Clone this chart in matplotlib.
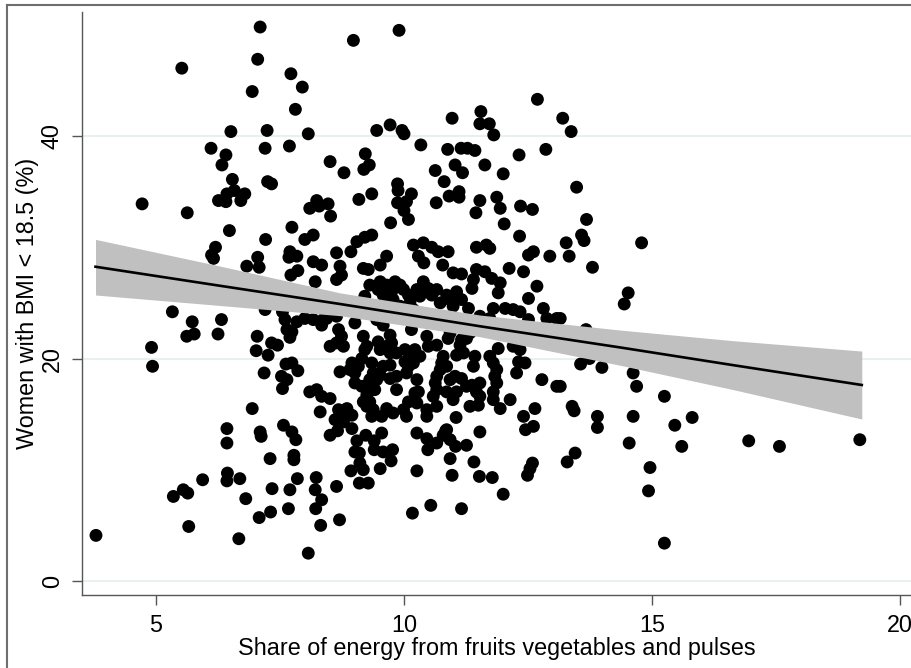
import numpy as np
import matplotlib
matplotlib.use("Agg")
import matplotlib.pyplot as plt
from matplotlib.lines import Line2D

plt.rcParams["font.family"] = ["Liberation Sans", "DejaVu Sans"]

# Share of dietary energy from fruits, vegetables and pulses (%), by survey cluster
share_fvp = np.array([
    7.10, 5.52, 7.05, 7.72, 7.95, 6.94, 7.81, 6.51, 7.24, 6.11, 7.20, 7.69, 6.41, 6.33, 6.54, 7.25,
    7.33, 4.72, 5.63, 6.26, 6.43, 6.41, 6.58, 6.79, 6.71, 7.74, 6.48,
    8.98, 9.90, 8.07, 9.45, 9.72, 9.96, 10.00, 10.97, 11.55, 11.53, 11.72, 11.81, 12.69, 13.20, 13.37,
    13.48, 10.34, 10.88, 11.15, 11.28, 11.43, 12.32, 12.86, 9.22, 8.51, 8.79, 9.19, 9.30, 10.63, 11.03,
    11.18, 11.63, 12.00, 10.81, 9.87, 9.88, 10.15, 9.35, 9.09, 9.87, 10.05, 10.00, 10.09, 9.73, 8.24,
    8.10, 8.29, 8.47, 8.52, 10.65, 10.91, 11.11, 11.11, 11.53, 11.45, 11.87, 11.94, 12.02, 12.35, 12.59,
    13.68,
    7.21, 6.20, 6.12, 6.16, 7.05, 7.08, 6.83, 7.70, 7.68, 7.84, 7.86, 7.72, 5.33, 5.73, 6.32, 5.62,
    5.77, 6.25, 4.91, 4.93, 7.20, 7.55, 7.84, 7.04, 7.02, 7.26, 7.33, 7.45, 7.64, 7.70, 7.62, 7.74,
    7.86, 7.18, 7.53, 7.64, 7.55, 6.94, 6.43, 7.10, 7.57, 7.74,
    6.43, 7.12, 7.82, 7.30, 7.78, 7.78, 6.44, 6.43, 6.69, 5.94, 5.55, 5.35, 5.64, 6.81, 7.34, 7.70,
    7.85, 7.31, 7.08, 7.67, 5.66, 6.67, 3.79,
    8.07, 8.32, 8.70, 8.22, 8.34, 8.21, 8.64, 8.23, 8.51, 8.66, 8.78, 9.05, 9.23, 9.40, 9.40, 9.55,
    9.58, 9.77, 9.74, 9.01, 9.10, 9.11, 9.18, 8.93, 9.10, 9.28, 9.52, 10.26, 10.46, 10.48, 10.66,
    10.26, 10.17, 10.54, 10.84, 10.93, 11.04, 10.93, 10.97, 11.26, 11.16, 11.41, 11.53, 11.52, 11.78,
    12.00, 12.45, 12.61, 12.59, 12.54, 12.49, 13.29, 13.45,
    13.90, 14.54, 15.46, 15.60, 14.96, 14.93, 15.25, 16.95, 17.57, 19.19,
    13.58, 13.63, 13.27, 13.33, 13.80, 14.79, 14.52, 14.44, 13.15, 13.67, 13.56, 13.74, 13.99, 14.62,
    14.69, 13.15, 15.25, 13.39, 13.43, 13.90, 14.62, 15.81,
    12.33, 8.00, 8.17, 9.05, 9.21, 9.35, 8.93, 8.64, 8.17, 8.34, 8.71, 8.74, 8.64, 8.21, 9.18, 9.28,
    9.52, 9.65, 10.19, 10.39, 10.56, 10.69, 10.89, 10.29, 10.40, 10.78, 11.46, 11.66, 11.73, 12.51,
    12.61, 12.94, 12.12, 12.41, 11.46, 11.63, 11.77, 10.99, 11.16, 11.40, 11.37, 11.94, 11.90, 12.68,
    12.51, 12.81, 12.88, 13.08, 12.51, 11.80, 12.04, 12.20, 12.34, 11.53, 11.73, 11.30, 11.16, 11.06,
    10.86, 10.93, 10.99, 10.66, 10.73, 10.39, 10.49, 10.56, 10.26, 10.32, 10.12, 10.19, 9.82, 9.92,
    9.99, 10.09, 9.52, 9.65, 9.75, 9.31, 9.48, 9.58, 9.68, 9.78, 9.92, 9.21, 9.45, 9.58, 9.01, 9.11,
    8.64, 8.44, 8.17, 8.34, 8.37, 8.00, 7.60, 7.53, 7.74, 8.68, 8.74, 8.51, 8.64, 8.78, 9.18, 9.25,
    9.21, 9.48, 9.52, 9.65, 9.72, 9.75, 9.72, 9.85, 10.02, 10.15, 10.22, 10.32, 10.09, 10.46, 10.49,
    10.66, 10.89, 11.16, 11.26, 11.33, 11.13, 11.20, 11.06, 10.79, 10.76, 10.86, 10.73, 10.66, 10.63,
    10.66, 10.59, 10.26, 10.29, 10.22, 10.05, 10.09, 10.19, 10.02, 9.85, 9.72, 9.85, 9.58, 9.72, 9.52,
    9.35, 9.38, 9.31, 9.25, 9.45, 9.41, 9.15, 9.08, 9.01, 8.95, 8.91, 8.71, 9.01, 9.15, 9.25, 9.18,
    9.25, 9.31, 9.38, 9.35, 9.65, 9.55, 9.78, 9.99, 10.05, 10.09, 10.26, 10.46, 10.66, 10.46, 10.86,
    10.93, 11.03, 11.16, 11.26, 11.37, 11.46, 11.53, 11.06, 10.99, 11.40, 11.43, 11.73, 11.80, 11.87,
    11.83, 11.87, 11.80, 11.80, 11.90, 12.20, 12.34, 12.31, 12.44, 12.27, 11.53, 11.50, 11.33, 11.94,
    12.14, 11.05, 12.64, 12.41, 12.78, 13.08, 10.86, 10.79, 8.95, 8.31, 8.68, 8.85, 8.95, 8.61, 8.74,
    8.10, 8.24, 8.34, 8.51, 10.15, 10.93,
])

# Share of women with BMI below 18.5 (%), same clusters
women_bmi = np.array([
    49.8, 46.1, 46.9, 45.6, 44.4, 44.0, 42.4, 40.4, 40.5, 38.9, 38.9, 39.1, 38.3, 37.4, 36.1, 35.9,
    35.7, 33.9, 33.1, 34.2, 34.8, 34.1, 35.1, 34.8, 34.2, 31.8, 31.5,
    48.6, 49.5, 40.2, 40.5, 41.0, 40.5, 40.2, 41.6, 42.2, 41.1, 41.1, 40.1, 43.3, 41.6, 40.4,
    35.4, 39.2, 38.8, 38.9, 38.9, 38.7, 38.3, 38.8, 38.4, 37.7, 36.7, 37.0, 37.4, 36.9, 37.4,
    36.7, 37.4, 36.6, 35.9, 35.7, 35.1, 34.8, 34.8, 34.3, 34.0, 34.1, 33.3, 32.5, 32.2, 34.2,
    33.5, 33.7, 33.9, 32.8, 34.0, 34.6, 35.0, 34.5, 34.2, 33.1, 34.5, 33.5, 32.1, 33.7, 33.4,
    32.5,
    30.7, 30.0, 29.3, 29.0, 29.1, 28.2, 28.3, 29.6, 29.1, 29.2, 27.9, 27.5, 24.2, 23.3, 23.5, 22.0,
    22.2, 22.2, 21.0, 19.3, 24.4, 24.2, 23.3, 22.0, 20.7, 20.3, 21.4, 21.2, 22.6, 21.9, 19.5, 19.6,
    18.9, 18.7, 18.4, 18.1, 17.3, 15.5, 13.7, 13.4, 14.0, 13.4,
    12.4, 13.0, 12.7, 11.0, 11.3, 10.9, 9.7, 9.0, 9.2, 9.1, 8.2, 7.6, 7.9, 7.4, 8.3, 8.2,
    9.2, 6.2, 5.7, 6.5, 4.9, 3.8, 4.1,
    2.5, 5.0, 5.5, 6.5, 7.3, 8.2, 8.5, 9.3, 13.1, 13.5, 14.3, 12.6, 13.1, 12.6, 11.8, 13.3,
    11.6, 11.8, 10.8, 11.6, 11.5, 10.6, 10.0, 9.9, 8.8, 8.8, 10.1, 13.3, 12.8, 11.8, 12.4,
    9.9, 6.1, 6.8, 13.5, 12.7, 12.1, 11.0, 9.5, 12.2, 6.5, 10.7, 13.4, 9.4, 9.3,
    7.8, 13.6, 13.9, 10.6, 10.1, 9.5, 10.7, 11.5,
    13.8, 12.4, 14.0, 12.1, 10.2, 8.1, 3.4, 12.6, 12.1, 12.7,
    31.1, 30.6, 30.4, 29.2, 28.2, 30.4, 25.9, 24.9, 23.6, 22.6, 19.5, 20.0, 19.2, 18.7,
    17.5, 17.5, 16.6, 15.7, 15.3, 14.8, 14.8, 14.7,
    31.0, 30.7, 31.1, 30.5, 30.9, 31.1, 29.6, 29.5, 28.7, 28.4, 28.3, 27.5, 27.1, 26.9, 28.1, 28.0,
    28.4, 29.2, 30.2, 30.4, 30.0, 29.6, 29.6, 29.2, 28.6, 28.4, 30.0, 30.2, 29.9, 29.3,
    29.6, 29.2, 28.1, 27.8, 28.0, 27.8, 27.2, 27.7, 27.6, 27.1, 26.3, 26.8, 25.9, 26.5,
    25.4, 24.5, 23.6, 23.6, 23.5, 24.5, 24.5, 24.4, 24.2, 23.8, 23.6, 24.5, 25.3, 26.0,
    25.7, 25.3, 24.7, 26.2, 25.0, 26.9, 26.3, 25.7, 26.2, 25.6, 25.0, 24.4, 26.9, 26.6,
    26.2, 25.7, 26.9, 26.6, 26.0, 26.6, 26.2, 25.7, 25.3, 25.3, 24.7, 25.6, 23.5, 23.0, 23.2, 24.1,
    23.8, 23.6, 23.5, 23.0, 23.5, 23.6, 23.5, 24.7, 22.4, 22.6, 22.0, 21.1, 21.4, 21.1, 22.0, 21.1,
    20.8, 21.5, 20.8, 21.1, 22.1, 21.4, 20.5, 20.5, 20.8, 20.5, 20.8, 20.2, 19.9, 22.0, 21.1,
    21.2, 21.8, 21.7, 21.8, 22.3, 21.2, 20.5, 20.3, 20.2, 19.6, 19.3, 19.0, 18.4, 17.8,
    17.2, 16.6, 18.1, 17.0, 16.9, 18.7, 19.3, 19.6, 19.7, 18.4, 18.2, 17.2, 19.3, 19.4, 18.5,
    19.6, 18.7, 18.1, 17.6, 18.1, 17.2, 20.0, 19.3, 18.7, 19.6, 19.0, 18.8, 17.8, 17.5, 16.7, 16.1,
    15.7, 16.1, 15.4, 14.8, 15.5, 14.8, 15.1, 15.4, 14.8, 16.1, 16.0, 15.4, 15.7, 14.8, 17.0,
    18.1, 18.4, 18.2, 17.5, 17.6, 17.0, 17.8, 17.0, 16.3, 19.3, 20.2, 20.2, 19.6, 19.0,
    18.4, 17.8, 17.0, 16.3, 20.9, 21.1, 20.8, 19.7, 19.6, 18.7, 16.6, 15.8, 15.7, 15.5,
    16.3, 14.7, 15.5, 14.8, 18.1, 17.5, 13.6, 13.1, 13.7, 15.2, 15.4, 15.5, 14.9, 14.5, 14.8,
    17.0, 17.2, 16.6, 16.4, 22.6, 22.3,
])

# Linear prediction and its 95% confidence limits along the x range
fit_x = [3.78, 6.20, 8.71, 11.53, 14.35, 16.64, 19.23]
fit_y = [28.25, 26.60, 24.90, 22.90, 21.00, 19.40, 17.62]
ci_upper = [30.71, 28.40, 25.90, 23.91, 22.56, 21.60, 20.67]
ci_lower = [25.71, 24.80, 23.85, 21.96, 19.40, 17.20, 14.56]

x_ticks = [5, 10, 15, 20]
y_ticks = [0, 20, 40]
x_title = "Share of energy from fruits vegetables and pulses"
y_title = "Women with BMI < 18.5 (%)"

W, H = 911, 668
fig = plt.figure(figsize=(W / 100, H / 100), dpi=100)
fig.patch.set_facecolor("white")

# plot region in pixel terms
left_px, right_px, top_px, bottom_px = 82, 911, 12, 595
ax = fig.add_axes([left_px / W, (H - bottom_px) / H,
                   (right_px - left_px) / W, (bottom_px - top_px) / H])

ax.scatter(share_fvp, women_bmi, s=86, color="black", edgecolors="none", zorder=2)
ax.fill_between(fit_x, ci_lower, ci_upper, color="#c0c0c0", lw=0, zorder=3)
ax.plot(fit_x, fit_y, color="black", lw=1.9, zorder=4)

ax.set_xlim(3.508, 20.222)
ax.set_ylim(-1.26, 51.15)
ax.set_xticks(x_ticks)
ax.set_yticks(y_ticks)
ax.yaxis.grid(True, color="#e7eff1", lw=1.3, zorder=0)
ax.set_axisbelow(True)

for side in ("top", "right"):
    ax.spines[side].set_visible(False)
for side in ("left", "bottom"):
    ax.spines[side].set_color("#555555")
    ax.spines[side].set_linewidth(1.0)

fs = 16.8
ax.tick_params(axis="both", direction="out", length=7.2, width=1.0, color="#555555",
               labelsize=fs, labelcolor="black")
ax.tick_params(axis="x", pad=6.5)
ax.tick_params(axis="y", pad=6.0)
for lab in ax.get_yticklabels():
    lab.set_rotation(90)
    lab.set_va("center")
    lab.set_ha("right")

ax.set_xlabel(x_title, fontsize=fs, labelpad=0)
ax.set_ylabel(y_title, fontsize=fs, labelpad=1)

# outer graph-region border
fig.add_artist(Line2D([7 / W, 7 / W], [0, (H - 5) / H], color="#6e6e6e", lw=1.5))
fig.add_artist(Line2D([7 / W, 1.0], [(H - 5) / H, (H - 5) / H], color="#6e6e6e", lw=1.5))

fig.savefig("out.png", dpi=100)
